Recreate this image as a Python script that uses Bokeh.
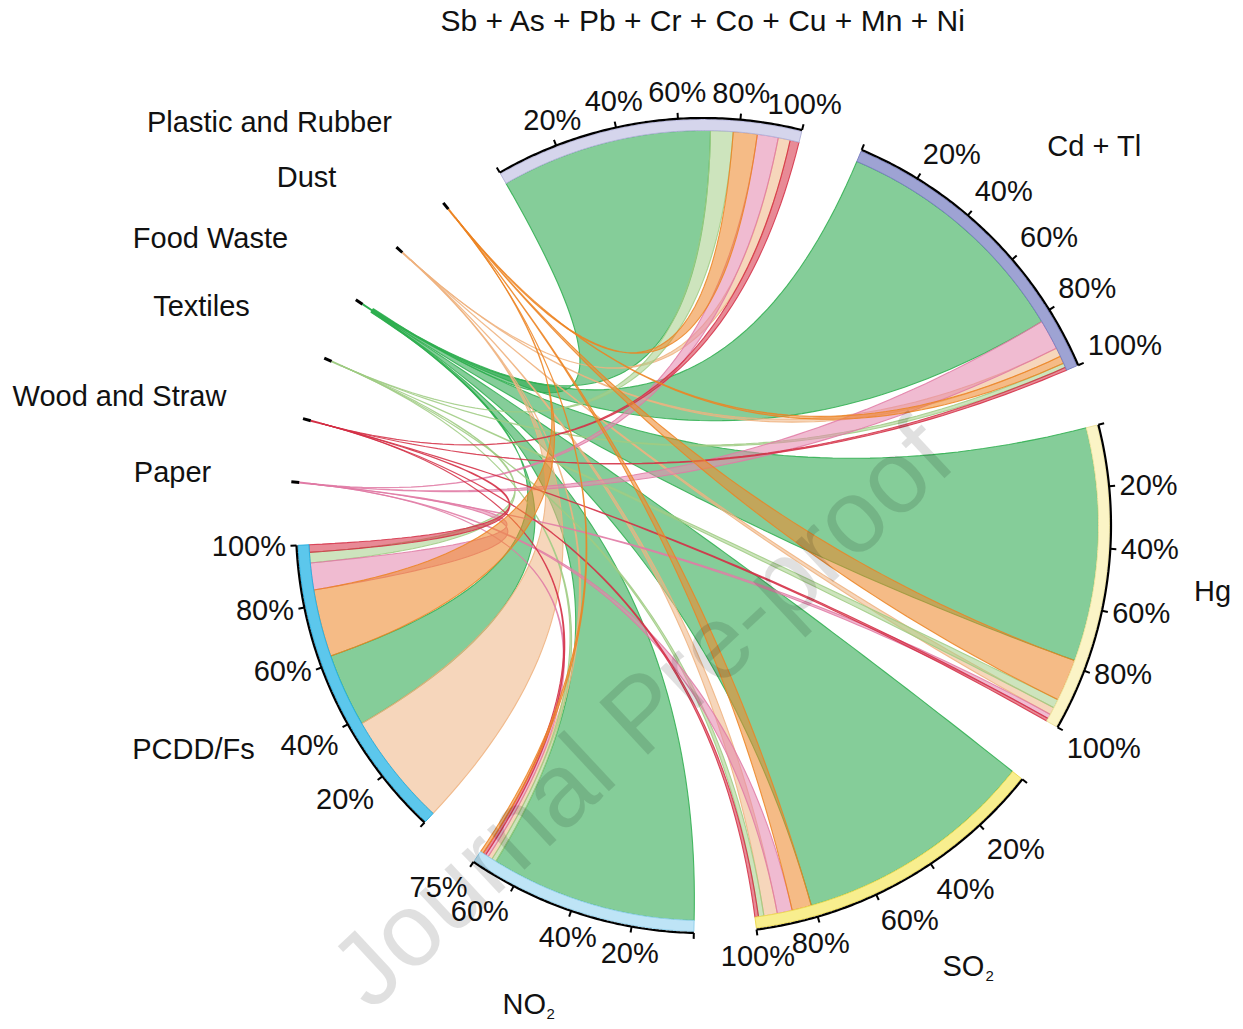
import numpy as np
from bokeh.plotting import figure
from bokeh.models import Range1d
from bokeh.embed import file_html
from bokeh.resources import INLINE
from bokeh.core.properties import value

# ---------------------------------------------------------------- data
sources = ["Plastic and Rubber", "Dust", "Food Waste", "Textiles", "Wood and Straw", "Paper"]
source_fill = ["#EE8A2F", "#F0B98A", "#2CA94F", "#A9D18E", "#D8354A", "#E68AB0"]
source_line = ["#EC8422", "#EFB27E", "#2DAE4E", "#9FCB83", "#D42F45", "#E17AA5"]

targets = ["Sb + As + Pb + Cr + Co + Cu + Mn + Ni", "Cd + Tl", "Hg", "SO2", "NO2", "PCDD/Fs"]
target_fill = ["#D5D5EC", "#9EA3D3", "#FBF4C6", "#F8EE8E", "#BEE4F6", "#5CC7EC"]
target_edge = ["#B4B4DA", "#7C81C2", "#EFE4A2", "#EEDB55", "#93D1EC", "#2BB1E2"]

# share (%) of each pollutant by waste component, in arc order (clockwise)
order_sb = ["Food Waste", "Textiles", "Plastic and Rubber", "Paper", "Dust", "Wood and Straw"]
share_sb = [70.5, 7.5, 8.0, 7.0, 4.0, 3.0]

order_cd = ["Food Waste", "Paper", "Dust", "Plastic and Rubber", "Textiles", "Wood and Straw"]
share_cd = [82.0, 10.0, 3.0, 2.5, 1.5, 1.0]

order_hg = ["Food Waste", "Plastic and Rubber", "Textiles", "Dust", "Paper", "Wood and Straw"]
share_hg = [78.0, 14.0, 3.0, 2.5, 1.5, 1.0]

order_so2 = ["Food Waste", "Plastic and Rubber", "Paper", "Dust", "Textiles", "Wood and Straw"]
share_so2 = [81.0, 6.5, 5.0, 4.5, 1.8, 1.2]

order_no2 = ["Food Waste", "Textiles", "Dust", "Paper", "Wood and Straw", "Plastic and Rubber"]
share_no2 = [69.0, 1.5, 1.5, 1.0, 1.0, 1.0]

order_pcdd = ["Dust", "Food Waste", "Plastic and Rubber", "Paper", "Textiles", "Wood and Straw"]
share_pcdd = [38.0, 24.5, 22.5, 9.0, 3.5, 2.5]

target_orders = [order_sb, order_cd, order_hg, order_so2, order_no2, order_pcdd]
target_shares = [share_sb, share_cd, share_hg, share_so2, share_no2, share_pcdd]

tick_values = [[0, 20, 40, 60, 80, 100]] * 4 + [[0, 20, 40, 60, 75]] + [[0, 20, 40, 60, 80, 100]]

# ---------------------------------------------------------------- layout
W, H = 1243, 1029
CX, CY = 703.0, H - 525.0
R_IN = 395.0      # chord ends / inner edge of track
R_BAND = 406.0    # outer edge of coloured track
R_AXIS = 407.5    # black axis arc
TICK_LEN = 6.0
R_LAB = 418.0
START = 120.0     # degrees, first sector start
SCALE = 0.44      # degrees per percent on pollutant arcs
SRC_SCALE = 0.0016

FONT = value("Liberation Sans")
FS = "29px"


def pol(theta, r):
    t = np.radians(theta)
    return CX + r * np.cos(t), CY + r * np.sin(t)


def arc(hi, lo, r, n=None):
    if n is None:
        n = max(2, int(abs(hi - lo) * 2) + 2)
    th = np.linspace(hi, lo, n)
    x, y = pol(th, r)
    return list(x), list(y)


def bez(a0, a1, n=60):
    x0, y0 = pol(a0, R_IN)
    x2, y2 = pol(a1, R_IN)
    t = np.linspace(0, 1, n)
    x = (1 - t) ** 2 * x0 + 2 * (1 - t) * t * CX + t ** 2 * x2
    y = (1 - t) ** 2 * y0 + 2 * (1 - t) * t * CY + t ** 2 * y2
    return list(x), list(y)


# totals
tgt_total = [sum(s) for s in target_shares]
src_links = {s: [] for s in sources}
for ti, (od, sh) in enumerate(zip(target_orders, target_shares)):
    for name, v in zip(od, sh):
        src_links[name].append((ti, v))
src_total = [sum(v for _, v in src_links[s]) for s in sources]

# sector sequence clockwise
seq = [("t", i) for i in range(6)] + [("s", i) for i in [5, 4, 3, 2, 1, 0]]
widths = [tgt_total[i] * SCALE if k == "t" else src_total[i] * SRC_SCALE for k, i in seq]
GAP = (360.0 - sum(widths)) / len(seq)

tgt_span, src_span = {}, {}
a = START
for (k, i), w in zip(seq, widths):
    if k == "t":
        tgt_span[i] = (a, a - w)
    else:
        src_span[i] = (a, a - w)
    a = a - w - GAP

# link end positions
link_t, link_s = {}, {}
for ti, (od, sh) in enumerate(zip(target_orders, target_shares)):
    hi = tgt_span[ti][0]
    for name, v in zip(od, sh):
        link_t[(name, ti)] = (hi, hi - v * SCALE)
        hi -= v * SCALE
for si, s in enumerate(sources):
    hi = src_span[si][0]
    for ti, v in sorted(src_links[s], key=lambda p: -p[0]):
        link_s[(s, ti)] = (hi, hi - v * SRC_SCALE)
        hi -= v * SRC_SCALE

# ---------------------------------------------------------------- figure
p = figure(width=W, height=H, x_range=Range1d(0, W), y_range=Range1d(0, H),
           x_axis_type=None, y_axis_type=None, toolbar_location=None,
           output_backend="svg", min_border=0)
p.outline_line_color = None
p.grid.visible = False
p.background_fill_color = "white"

# chords
draw_order = ["Food Waste", "Dust", "Textiles", "Paper", "Wood and Straw", "Plastic and Rubber"]
for s in draw_order:
    si = sources.index(s)
    xs, ys = [], []
    for ti, v in src_links[s]:
        sh, sl = link_s[(s, ti)]
        th, tl = link_t[(s, ti)]
        x1, y1 = arc(sh, sl, R_IN, 3)
        x2, y2 = bez(sl, th)
        x3, y3 = arc(th, tl, R_IN)
        x4, y4 = bez(tl, sh)
        xs.append(x1 + x2 + x3 + x4)
        ys.append(y1 + y2 + y3 + y4)
    p.patches(xs, ys, fill_color=source_fill[si], fill_alpha=0.58,
              line_color=source_line[si], line_alpha=0.85, line_width=1.1)

# pollutant tracks, axes and ticks
for ti in range(6):
    hi, lo = tgt_span[ti]
    xo, yo = arc(hi, lo, R_BAND)
    xi, yi = arc(lo, hi, R_IN)
    p.patch(xo + xi, yo + yi, fill_color=target_fill[ti], line_color=target_edge[ti], line_width=1)
    xa, ya = arc(hi, lo, R_AXIS)
    p.line(xa, ya, line_color="black", line_width=2.2)
    th = np.array([hi - v * SCALE for v in tick_values[ti]])
    x0, y0 = pol(th, R_AXIS)
    x1, y1 = pol(th, R_AXIS + TICK_LEN)
    p.segment(x0, y0, x1, y1, line_color="black", line_width=2)

# tick labels grouped by alignment
groups = {}
for ti in range(6):
    hi, lo = tgt_span[ti]
    for v in tick_values[ti][1:]:
        th = hi - v * SCALE
        c, s_ = np.cos(np.radians(th)), np.sin(np.radians(th))
        ha = "center" if abs(c) < 0.4 else ("left" if c > 0 else "right")
        va = "middle" if abs(s_) < 0.37 else ("bottom" if s_ > 0 else "top")
        x, y = pol(th, R_LAB)
        groups.setdefault((ha, va), ([], [], []))
        groups[(ha, va)][0].append(x)
        groups[(ha, va)][1].append(y)
        groups[(ha, va)][2].append(f"{v}%")
for (ha, va), (gx, gy, gt) in groups.items():
    p.text(gx, gy, text=gt, text_align=ha, text_baseline=va, text_font=FONT,
           text_font_size=FS, text_color="#111111")

# waste-component markers
for si in range(6):
    hi, lo = src_span[si]
    mid = (hi + lo) / 2
    xa, ya = pol(mid, R_IN)
    xb, yb = pol(mid, R_AXIS - 1)
    p.segment([xa], [ya], [xb], [yb], line_color=source_line[si], line_width=2)
    xa, ya = pol(mid, R_AXIS - 1)
    xb, yb = pol(mid, R_AXIS + 7)
    p.segment([xa], [ya], [xb], [yb], line_color="black", line_width=3)

# sector names
p.text([703], [H - 20], text=[targets[0]], text_align="center", text_baseline="middle",
       text_font=FONT, text_font_size="30px", text_color="#111111")
name_x = [1094, 1212, 193]
name_y = [145, 590, 748]
name_t = [targets[1], targets[2], targets[5]]
p.text(name_x, [H - y for y in name_y], text=name_t, text_align="center", text_baseline="middle",
       text_font=FONT, text_font_size=FS, text_color="#111111")
# SO2 / NO2 with subscript
p.text([942, 502], [H - 965, H - 1003], text=["SO", "NO"], text_align="left", text_baseline="middle",
       text_font=FONT, text_font_size=FS, text_color="#111111")
p.text([985, 546], [H - 975, H - 1013], text=["2", "2"], text_align="left", text_baseline="middle",
       text_font=FONT, text_font_size="15px", text_color="#111111")

src_lab_x = [269, 306, 210, 201, 119, 172]
src_lab_y = [121, 176, 237, 305, 395, 471]
p.text(src_lab_x, [H - y for y in src_lab_y], text=sources, text_align="center", text_baseline="middle",
       text_font=FONT, text_font_size=FS, text_color="#111111")

# watermark
p.text([640], [H - 712], text=["Journal Pre-proof"], angle=43, angle_units="deg",
       text_align="center", text_baseline="middle", text_font=FONT, text_font_size="104px",
       text_color="black", text_alpha=0.12)

open("out.html", "w").write(file_html(p, INLINE))
